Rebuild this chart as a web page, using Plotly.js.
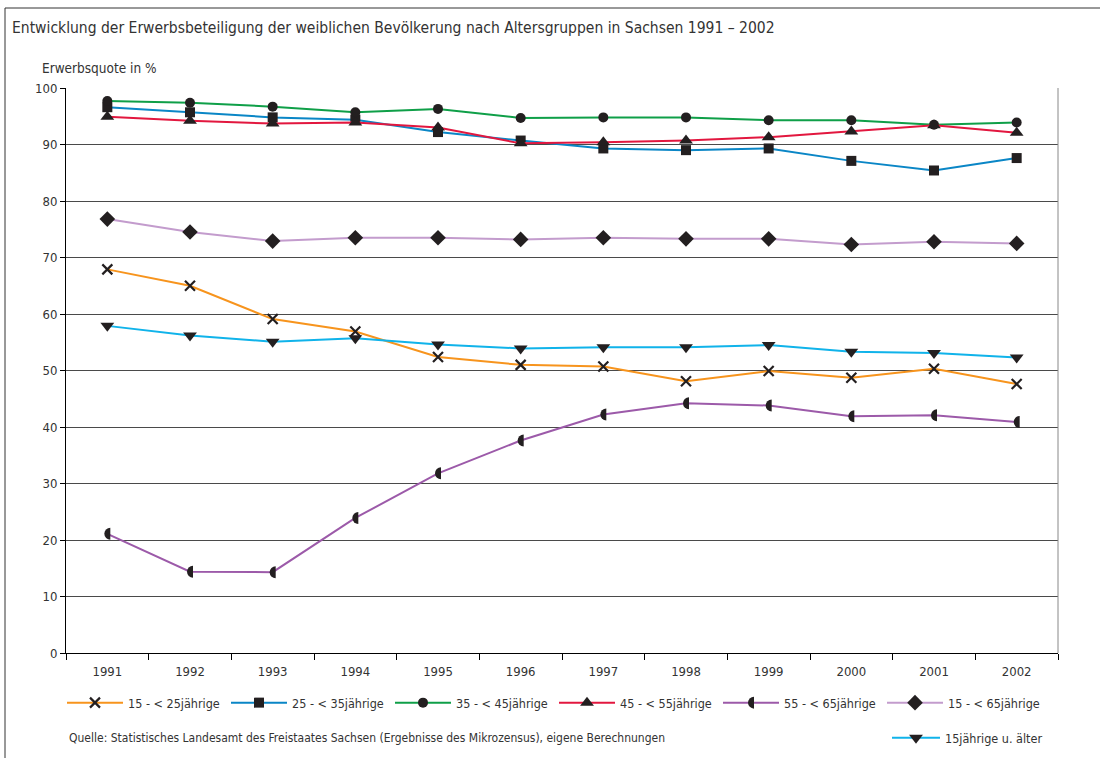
<!DOCTYPE html>
<html>
<head>
<meta charset="utf-8">
<script src="https://cdn.plot.ly/plotly-3.0.1.min.js"></script>
<style>
  html, body { margin: 0; padding: 0; background: #fff; }
  #chart { width: 1100px; height: 758px; }
</style>
</head>
<body>
<div id="chart"></div>
<script>
const years = ['1991','1992','1993','1994','1995','1996','1997','1998','1999','2000','2001','2002'];
const seriesNames = ['15 - < 25jährige','25 - < 35jährige','35 - < 45jährige','45 - < 55jährige','55 - < 65jährige','15 - < 65jährige','15jährige u. älter'];
const s15_25  = [67.9, 65.0, 59.1, 56.9, 52.4, 51.0, 50.7, 48.1, 49.9, 48.7, 50.3, 47.6];
const s25_35  = [96.6, 95.7, 94.8, 94.4, 92.2, 90.7, 89.3, 89.0, 89.3, 87.1, 85.4, 87.6];
const s35_45  = [97.7, 97.4, 96.7, 95.7, 96.3, 94.7, 94.8, 94.8, 94.3, 94.3, 93.5, 93.9];
const s45_55  = [94.9, 94.2, 93.7, 93.9, 93.0, 90.2, 90.4, 90.7, 91.3, 92.3, 93.4, 92.1];
const s55_65  = [21.1, 14.4, 14.3, 23.9, 31.8, 37.6, 42.2, 44.2, 43.8, 41.9, 42.1, 40.9];
const s15_65  = [76.8, 74.5, 72.9, 73.5, 73.5, 73.2, 73.5, 73.3, 73.3, 72.3, 72.8, 72.5];
const s15plus = [57.9, 56.2, 55.1, 55.7, 54.6, 53.9, 54.1, 54.1, 54.5, 53.3, 53.1, 52.3];
const yTicks = [0,10,20,30,40,50,60,70,80,90,100];

const FONT = 'Liberation Sans Narrow, DejaVu Sans Condensed, Arial, sans-serif';
const TXT = '#333333';
const MK = '#231f20';

function tr(name, y, color, symbol, size, extra) {
  return {
    type: 'scatter', mode: 'lines+markers', x: years, y: y, name: name,
    line: { color: color, width: 2 },
    marker: Object.assign({ symbol: symbol, size: size, color: MK, line: { width: 0, color: MK } }, extra || {}),
    cliponaxis: false
  };
}

const data = [
  tr(seriesNames[0], s15_25, '#f7941d', 'x-thin', 10, { line: { width: 2.2, color: MK } }),
  tr(seriesNames[1], s25_35, '#0a86c6', 'square', 10),
  tr(seriesNames[2], s35_45, '#0f9f48', 'circle', 10),
  tr(seriesNames[3], s45_55, '#e2173f', 'triangle-up', 12),
  tr(seriesNames[4], s55_65, '#9c5aa9', 'circle', 12),
  tr(seriesNames[5], s15_65, '#c39ccd', 'diamond', 12),
  Object.assign(tr(seriesNames[6], s15plus, '#10b3ea', 'triangle-down', 12), { legend: 'legend2' })
];

// paper coordinate helpers (plot area: x 66..1058, y 88..653)
const L = 66, R = 1058, T = 88, B = 653;
const px = v => (v - L) / (R - L);
const py = v => (B - v) / (B - T);

const layout = {
  width: 1100, height: 758, autosize: false,
  margin: { l: L, r: 1100 - R, t: T, b: 758 - B, pad: 0, autoexpand: false },
  paper_bgcolor: '#ffffff', plot_bgcolor: '#ffffff',
  font: { family: FONT, size: 12, color: TXT },
  title: {
    text: 'Entwicklung der Erwerbsbeteiligung der weiblichen Bevölkerung nach Altersgruppen in Sachsen 1991 – 2002',
    font: { family: FONT, size: 15.5, color: TXT },
    x: 12 / 1100, xanchor: 'left', xref: 'container',
    y: 1 - 28 / 758, yanchor: 'middle', yref: 'container'
  },
  xaxis: {
    type: 'category', categoryorder: 'array', categoryarray: years,
    range: [-0.5, 11.5], fixedrange: true, automargin: false,
    showline: true, linecolor: '#000', linewidth: 1,
    ticks: 'outside', tickson: 'boundaries', ticklen: 6, tickcolor: '#000', tickwidth: 1,
    ticklabelstandoff: 6,
    showgrid: false, zeroline: false,
    tickfont: { family: FONT, size: 13, color: TXT }
  },
  yaxis: {
    range: [0, 100], tickmode: 'array', tickvals: yTicks, ticktext: yTicks.map(String),
    showline: true, linecolor: '#000', linewidth: 1, automargin: false,
    ticks: 'outside', ticklen: 5, tickcolor: '#000',
    showgrid: true, gridcolor: '#4a4a4a', gridwidth: 1,
    zeroline: false, fixedrange: true,
    tickfont: { family: FONT, size: 13, color: TXT }
  },
  showlegend: true,
  legend: {
    orientation: 'h', x: px(62), xanchor: 'left', y: py(703), yanchor: 'middle',
    itemwidth: 56, entrywidth: 93, entrywidthmode: 'pixels',
    bgcolor: 'rgba(0,0,0,0)', borderwidth: 0,
    font: { family: FONT, size: 12.5, color: TXT },
    traceorder: 'normal', itemclick: false, itemdoubleclick: false
  },
  legend2: {
    orientation: 'h', x: px(887), xanchor: 'left', y: py(738), yanchor: 'middle',
    itemwidth: 48,
    bgcolor: 'rgba(0,0,0,0)', borderwidth: 0,
    font: { family: FONT, size: 12.5, color: TXT },
    itemclick: false, itemdoubleclick: false
  },
  annotations: [
    { text: 'Erwerbsquote in %', xref: 'paper', yref: 'paper', x: px(40), y: py(68),
      xanchor: 'left', yanchor: 'middle', showarrow: false,
      font: { family: FONT, size: 13.5, color: TXT } },
    { text: 'Quelle: Statistisches Landesamt des Freistaates Sachsen (Ergebnisse des Mikrozensus), eigene Berechnungen',
      xref: 'paper', yref: 'paper', x: px(67), y: py(738), xanchor: 'left', yanchor: 'middle', showarrow: false,
      font: { family: FONT, size: 12, color: TXT } }
  ],
  shapes: [
    { type: 'line', xref: 'paper', yref: 'paper', x0: 1, x1: 1, y0: 0, y1: 1,
      line: { color: '#888888', width: 1 }, layer: 'above' },
    { type: 'path', xref: 'paper', yref: 'paper',
      path: 'M ' + px(5) + ' ' + py(762) + ' L ' + px(5) + ' ' + py(8) + ' L ' + px(1104) + ' ' + py(8),
      line: { color: '#333333', width: 1 }, layer: 'above' }
  ]
};

const HALF = 'M3,-6A6,6 0 0 0 3,6Z';

function fixHalfMarkers(gd) {
  const target = seriesNames[4];
  gd.querySelectorAll('.scatterlayer .trace').forEach(g => {
    const d = g.__data__;
    if (d && d[0] && d[0].trace && d[0].trace.name === target) {
      g.querySelectorAll('path.point').forEach(p => p.setAttribute('d', HALF));
    }
  });
  gd.querySelectorAll('g.traces').forEach(g => {
    const d = g.__data__;
    const t = d && d[0] && d[0][0] && d[0][0].trace ? d[0][0].trace : (d && d[0] && d[0].trace ? d[0].trace : null);
    if (t && t.name === target) {
      g.querySelectorAll('.legendpoints path.scatterpts').forEach(p => p.setAttribute('d', HALF));
    }
  });
}

const gd = document.getElementById('chart');
Plotly.newPlot(gd, data, layout, { displayModeBar: false, staticPlot: true }).then(() => fixHalfMarkers(gd));
</script>
</body>
</html>
